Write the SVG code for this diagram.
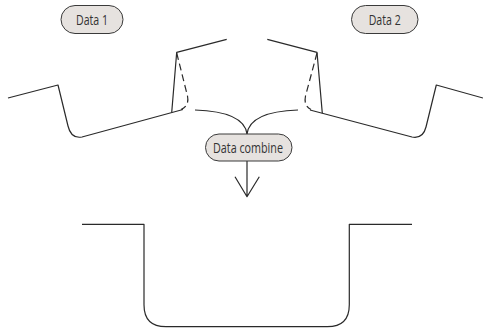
<svg xmlns="http://www.w3.org/2000/svg" width="483" height="328" viewBox="0 0 483 328">
<style>
.pill{fill:#e6e2df;stroke:#3a3a3a;stroke-width:1}
.lbl{font-family:"Open Sans","Liberation Sans",sans-serif;font-size:14px;fill:#333;text-anchor:middle}
.ln{fill:none;stroke:#2a2a2a;stroke-width:1.2;stroke-linejoin:round}
.dash{fill:none;stroke:#2a2a2a;stroke-width:1.2;stroke-dasharray:7,4}
</style>
<rect width="483" height="328" fill="#fff"/>
<g id="terrain">
<path class="ln" d="M8,98 L58,85 L68,126 Q71,139 82,137 L183,109.5"/>
<path class="ln" d="M171.7,112.5 L176.7,52.3 L226.7,39.3"/>
<path class="dash" d="M176.7,53 L187.5,96 Q189.5,106 181,109.5"/>
<path class="ln" d="M267.3,39.3 L317,52.3 L322.3,113.3"/>
<path class="dash" d="M317,53 L305.5,96 Q303.5,106 311,109.5"/>
<path class="ln" d="M310,110 L412,137 Q423,139 426,127 L436.3,85 L483,98"/>
<path class="ln" d="M82,224.3 L144,224.3 L144,304.7 Q144,326.7 166,326.7 L327.3,326.7 Q349.3,326.7 349.3,304.7 L349.3,224.3 L412,224.3"/>
</g>
<g id="connectors">
<path class="ln" d="M195,110 C225,111 245,118 247,134"/>
<path class="ln" d="M298,110 C268,111 249,118 247,134"/>
<path class="ln" d="M247,161 L247,196.7 M235,176.7 L247,196.7 L259.3,176.7"/>
</g>
<g id="data1">
<rect class="pill" x="61" y="5.5" width="62" height="28" rx="14"/>
<text class="lbl" x="92" y="24.5" textLength="32" lengthAdjust="spacingAndGlyphs">Data 1</text>
</g>
<g id="data2">
<rect class="pill" x="351.5" y="5.5" width="66.5" height="28" rx="14"/>
<text class="lbl" x="384.7" y="24.5" textLength="32" lengthAdjust="spacingAndGlyphs">Data 2</text>
</g>
<g id="combine">
<rect class="pill" x="205.5" y="134" width="86.5" height="27" rx="13.5"/>
<text class="lbl" x="248" y="152.5" textLength="70" lengthAdjust="spacingAndGlyphs">Data combine</text>
</g>
</svg>
